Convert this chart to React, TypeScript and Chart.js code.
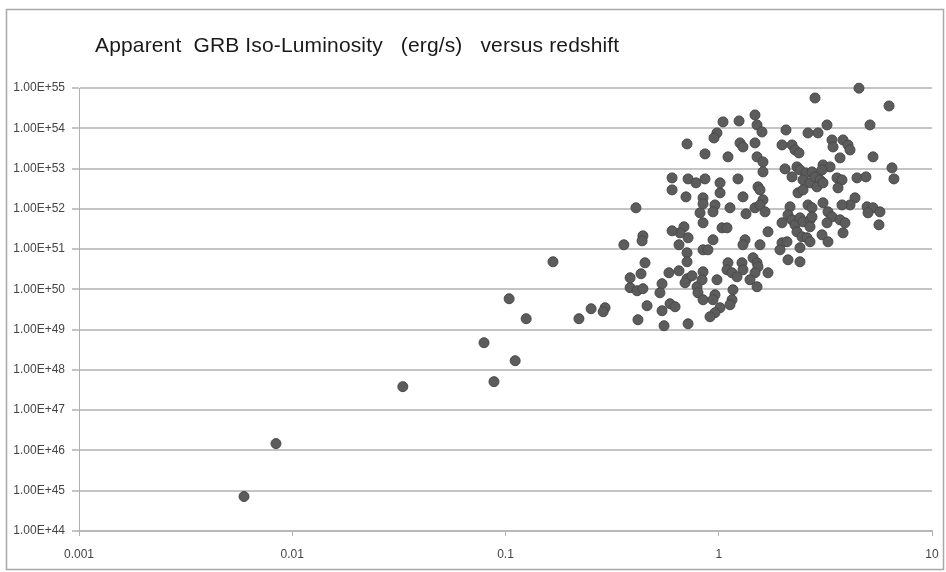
import React, { useEffect, useRef } from "react";
import { Chart, registerables } from "chart.js";

Chart.register(...registerables);

const chartTitle = "Apparent  GRB Iso-Luminosity   (erg/s)   versus redshift";

const xTickValues = [0.001, 0.01, 0.1, 1, 10];
const xTickLabels = ["0.001", "0.01", "0.1", "1", "10"];
const yTickValues = [1e44, 1e45, 1e46, 1e47, 1e48, 1e49, 1e50, 1e51, 1e52, 1e53, 1e54, 1e55];

const redshift = [
  0.00594, 0.00839, 0.033, 0.0793, 0.0883, 0.111, 0.104, 0.125, 0.167, 0.221,
  0.252, 0.293, 0.287, 0.359, 0.409, 0.441, 0.437, 0.451, 0.432, 0.384,
  0.384, 0.414, 0.441, 0.461, 0.418, 0.542, 0.554, 0.591, 0.624, 0.542,
  0.53, 0.584, 0.651, 0.71, 0.749, 0.695, 0.791, 0.799, 0.844, 0.844,
  0.718, 0.71, 0.71, 0.651, 0.718, 0.687, 0.658, 0.604, 0.71, 0.604,
  0.718, 0.782, 0.604, 0.702, 0.817, 0.844, 0.844, 0.862, 0.862, 0.844,
  0.844, 0.981, 0.95, 1.047, 1.245, 1.479, 1.512, 1.595, 1.258, 1.299,
  1.479, 1.105, 1.512, 1.612, 1.612, 1.014, 1.014, 1.231, 1.528, 1.561,
  1.299, 1.612, 0.96, 0.94, 1.129, 1.479, 1.561, 1.648, 1.342, 1.036,
  1.093, 1.702, 0.94, 1.328, 1.299, 1.561, 0.89, 1.448, 1.512, 1.105,
  1.093, 1.154, 1.218, 1.285, 1.299, 1.528, 1.479, 1.401, 1.512, 1.702,
  0.835, 0.981, 1.166, 1.154, 0.96, 0.94, 1.014, 0.96, 0.91, 1.129,
  2.067, 2.621, 2.921, 1.98, 2.206, 2.279, 2.378, 2.045, 2.327, 2.404,
  2.566, 2.737, 2.888, 2.206, 2.484, 2.679, 2.353, 2.484, 2.159, 2.621,
  2.737, 1.98, 2.112, 2.206, 2.279, 2.404, 2.484, 2.679, 2.327, 2.457,
  2.593, 1.98, 1.937, 2.089, 2.404, 2.112, 2.404, 2.828, 4.546, 6.29,
  3.219, 5.12, 3.397, 3.434, 3.826, 4.037, 4.126, 3.704, 5.29, 3.083,
  3.324, 3.05, 6.49, 6.63, 2.828, 2.984, 2.888, 3.083, 3.585, 3.784,
  3.624, 4.45, 4.9, 4.355, 4.126, 3.784, 3.083, 2.737, 2.679, 3.253,
  3.397, 3.219, 3.704, 3.908, 3.826, 4.96, 5.29, 5.01, 5.7, 5.64,
  3.05, 3.253, 2.679,
];

const isoLuminosity = [
  7.18e44, 1.48e46, 3.84e47, 4.74e48, 5.11e47, 1.69e48, 5.85e49, 1.87e49, 4.84e50, 1.87e49,
  3.3e49, 3.5e49, 2.78e49, 1.28e51, 1.06e52, 2.13e51, 1.6e51, 4.57e50, 2.44e50, 1.94e50,
  1.1e50, 9.23e49, 1.04e50, 3.92e49, 1.76e49, 2.94e49, 1.25e49, 4.4e49, 3.7e49, 1.38e50,
  8.24e49, 2.58e50, 2.89e50, 1.83e50, 2.17e50, 1.46e50, 1.16e50, 8.24e49, 5.52e49, 2.73e50,
  1.4e49, 8.09e50, 4.84e50, 1.28e51, 1.91e51, 3.57e51, 2.53e51, 2.84e51, 4.08e53, 5.86e52,
  5.53e52, 4.41e52, 2.95e52, 1.98e52, 7.94e51, 4.49e51, 9.59e50, 2.31e53, 5.53e52, 1.87e52,
  1.33e52, 7.66e53, 5.75e53, 1.44e54, 1.52e54, 2.14e54, 1.21e54, 8.11e53, 4.33e53, 3.44e53,
  4.33e53, 1.95e53, 1.95e53, 1.46e53, 8.26e52, 4.41e52, 2.49e52, 5.53e52, 3.51e52, 2.95e52,
  1.98e52, 1.67e52, 1.25e52, 8.41e51, 1.06e52, 1.06e52, 1.25e52, 8.41e51, 7.5e51, 3.37e51,
  3.37e51, 2.69e51, 1.7e51, 1.7e51, 1.28e51, 1.28e51, 9.59e50, 6.08e50, 4.57e50, 4.57e50,
  3.06e50, 2.58e50, 2.05e50, 4.57e50, 3.06e50, 3.63e50, 2.58e50, 1.73e50, 1.16e50, 2.58e50,
  1.73e50, 1.73e50, 9.77e49, 5.52e49, 7.35e49, 5.52e49, 3.5e49, 2.63e49, 2.09e49, 4.15e49,
  9.08e53, 7.66e53, 7.66e53, 3.86e53, 3.86e53, 2.9e53, 2.44e53, 9.8e52, 1.1e53, 9.27e52,
  7.8e52, 8.26e52, 6.21e52, 6.21e52, 5.22e52, 4.41e52, 2.49e52, 2.95e52, 1.12e52, 1.25e52,
  1.06e52, 4.49e51, 7.08e51, 5.32e51, 4.0e51, 5.97e51, 4.75e51, 5.32e51, 2.69e51, 2.02e51,
  1.91e51, 1.43e51, 9.59e50, 1.52e51, 1.08e51, 5.42e50, 4.84e50, 5.65e54, 9.9e54, 3.58e54,
  1.21e54, 1.21e54, 5.13e53, 3.44e53, 5.13e53, 3.86e53, 2.9e53, 1.84e53, 1.95e53, 1.23e53,
  1.1e53, 9.27e52, 1.04e53, 5.53e52, 6.21e52, 5.22e52, 3.51e52, 4.41e52, 5.86e52, 5.22e52,
  3.31e52, 5.86e52, 6.21e52, 1.87e52, 1.25e52, 1.25e52, 1.41e52, 6.32e51, 3.57e51, 8.41e51,
  6.32e51, 4.49e51, 5.32e51, 4.49e51, 2.53e51, 1.12e52, 1.06e52, 7.94e51, 8.41e51, 4.0e51,
  2.26e51, 1.52e51, 1.52e51,
];

export default function App() {
  const canvasRef = useRef<HTMLCanvasElement | null>(null);

  useEffect(() => {
    const canvas = canvasRef.current;
    if (!canvas) return;

    const framePlugin = {
      id: "frameAndTitle",
      beforeDraw(chart: any) {
        const ctx = chart.ctx;
        ctx.save();
        ctx.fillStyle = "#ffffff";
        ctx.fillRect(0, 0, chart.width, chart.height);
        ctx.strokeStyle = "#a8a8a8";
        ctx.lineWidth = 1.5;
        ctx.strokeRect(6.5, 9.5, 937, 560);
        ctx.restore();
      },
      afterDraw(chart: any) {
        const ctx = chart.ctx;
        ctx.save();
        ctx.fillStyle = "#1a1a1a";
        ctx.font = "21px 'Liberation Sans', Arial, sans-serif";
        try {
          (ctx as any).letterSpacing = "0.15px";
        } catch (e) {}
        ctx.textBaseline = "alphabetic";
        ctx.textAlign = "left";
        ctx.fillText(chartTitle, 95, 52);
        ctx.restore();
      },
    };

    const data = redshift.map((z, i) => ({ x: z, y: isoLuminosity[i] }));

    const chart = new Chart(canvas, {
      type: "scatter",
      data: {
        datasets: [
          {
            data,
            backgroundColor: "#5c5c5c",
            borderColor: "#4a4a4a",
            borderWidth: 1,
            pointRadius: 5,
            clip: false,
          } as any,
        ],
      },
      options: {
        animation: false,
        responsive: false,
        devicePixelRatio: 1,
        layout: { autoPadding: false, padding: { left: 0, right: 14, top: 88, bottom: 0 } },
        plugins: {
          legend: { display: false },
          tooltip: { enabled: false },
          title: { display: false },
        },
        scales: {
          x: {
            type: "logarithmic",
            min: 0.001,
            max: 10,
            afterFit: (s: any) => {
              s.height = 41;
              s.paddingLeft = 0;
              s.paddingRight = 0;
            },
            afterBuildTicks: (s: any) => {
              s.ticks = xTickValues.map((v) => ({ value: v }));
            },
            ticks: {
              autoSkip: false,
              maxRotation: 0,
              padding: 11,
              color: "#444",
              font: { family: "'Liberation Sans', Arial, sans-serif", size: 12 },
              callback: (v: any) => {
                const idx = xTickValues.findIndex((t) => Math.abs(Math.log10(t) - Math.log10(v)) < 1e-6);
                return idx >= 0 ? xTickLabels[idx] : "";
              },
            },
            grid: {
              drawOnChartArea: false,
              drawTicks: true,
              tickLength: 5,
              color: "#b0b0b0",
              lineWidth: 1,
            },
            border: { display: true, color: "#b8b8b8", width: 2 },
          },
          y: {
            type: "logarithmic",
            min: 1e44,
            max: 1e55,
            afterFit: (s: any) => {
              s.width = 79;
              s.paddingTop = 0;
              s.paddingBottom = 0;
            },
            afterBuildTicks: (s: any) => {
              s.ticks = yTickValues.map((v) => ({ value: v }));
            },
            ticks: {
              autoSkip: false,
              padding: 7,
              color: "#444",
              font: { family: "'Liberation Sans', Arial, sans-serif", size: 12 },
              callback: (v: any) => Number(v).toExponential(2).toUpperCase(),
            },
            grid: {
              drawTicks: true,
              tickLength: 7,
              color: "#c4c4c4",
              lineWidth: 2,
            },
            border: { display: true, color: "#b0b0b0", width: 1 },
          },
        },
      },
      plugins: [framePlugin],
    });

    return () => {
      chart.destroy();
    };
  }, []);

  return (
    <div style={{ position: "fixed", left: 0, top: 0, width: 946, height: 572, background: "#fff" }}>
      <canvas ref={canvasRef} width={946} height={572} style={{ width: 946, height: 572, display: "block" }} />
    </div>
  );
}
